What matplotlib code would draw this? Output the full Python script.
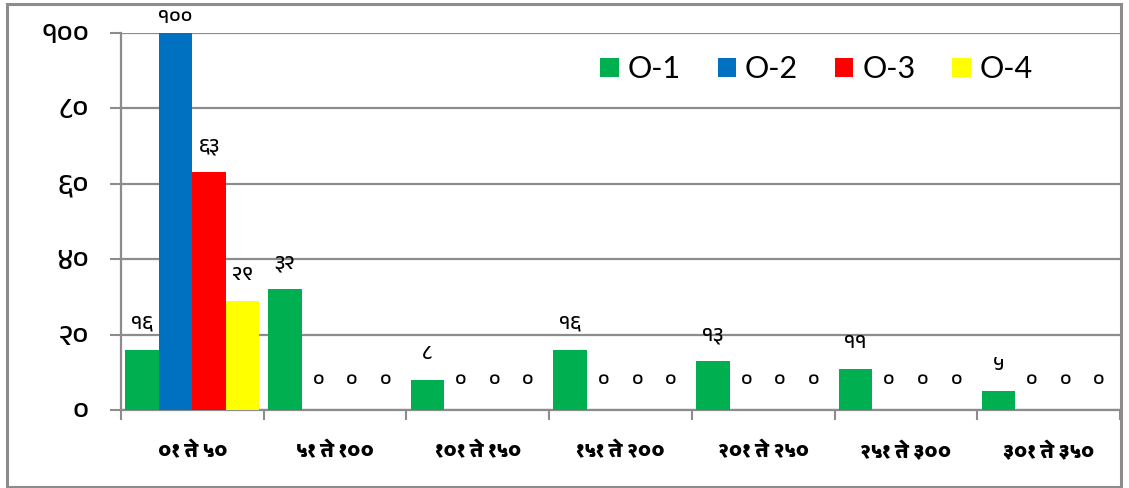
import matplotlib
matplotlib.use('Agg')
import matplotlib.pyplot as plt
from matplotlib.patches import Rectangle
import numpy as np

# डेटा
categories=['०१ ते ५०','५१ ते १००','१०१ ते १५०','१५१ ते २००','२०१ ते २५०','२५१ ते ३००','३०१ ते ३५०']
series=['O-1','O-2','O-3','O-4']
o1=[16,32,8,16,13,11,5]
o2=[100,0,0,0,0,0,0]
o3=[63,0,0,0,0,0,0]
o4=[29,0,0,0,0,0,0]
colors=['#00b050','#0070c0','#ff0000','#ffff00']
yticks=[0,20,40,60,80,100]

DEV='०१२३४५६७८९'
def dev(n):
    return ''.join(DEV[int(c)] for c in str(n))

plt.rcParams['font.family']=['Anek Devanagari','DejaVu Sans']
GRAY='#8c8c8c'

fig=plt.figure(figsize=(11.29,4.88),dpi=100)
fig.patches.append(Rectangle((7/1129,1-487/488),1114/1129,483/488,transform=fig.transFigure,
                             fill=False,edgecolor=GRAY,linewidth=2.2))
ax=fig.add_axes([121/1129,1-410/488,(1120-121)/1129,377/488])

x=np.arange(len(categories))
w=0.235
data=[o1,o2,o3,o4]
for i,(vals,c,name) in enumerate(zip(data,colors,series)):
    pos=x+(i-1.5)*w
    ax.bar(pos,vals,width=w,color=c,label=name,zorder=3)
    for p,v in zip(pos,vals):
        off=11 if v==100 else (21 if v==0 else 19)
        ax.annotate(dev(v),(p,v),xytext=(0,off),textcoords='offset points',
                    ha='center',va='center',fontsize=15,fontweight='medium',zorder=4,
                    annotation_clip=False)

ax.set_xlim(-0.5,len(categories)-0.5)
ax.set_ylim(0,100)
ax.set_yticks(yticks)
ax.set_yticklabels([dev(t) for t in yticks],fontsize=21,fontweight='medium')
ax.set_xticks(x)
ax.set_xticklabels(categories,fontsize=14,fontweight='bold',family=['Palanquin Dark','DejaVu Sans'])
ax.set_xticks(np.arange(len(categories)+1)-0.5,minor=True)
ax.tick_params(axis='x',which='major',length=0,pad=23)
ax.tick_params(axis='x',which='minor',length=7,width=1.5,color=GRAY)
ax.tick_params(axis='y',length=8,width=1.5,color=GRAY,pad=15)
ax.yaxis.grid(True,color=GRAY,linewidth=1.6,zorder=0)
for s in ['top','right']:
    ax.spines[s].set_visible(False)
for s in ['left','bottom']:
    ax.spines[s].set_color(GRAY)
    ax.spines[s].set_linewidth(1.6)

fig.legend(loc='center left',bbox_to_anchor=(585/1129,1-69/488),ncol=4,frameon=False,
           prop={'family':['Lato','DejaVu Sans'],'size':22},
           handlelength=0.6,handleheight=0.6,handletextpad=0.3,columnspacing=1.2,borderpad=0)

fig.savefig('out.png',dpi=100)
